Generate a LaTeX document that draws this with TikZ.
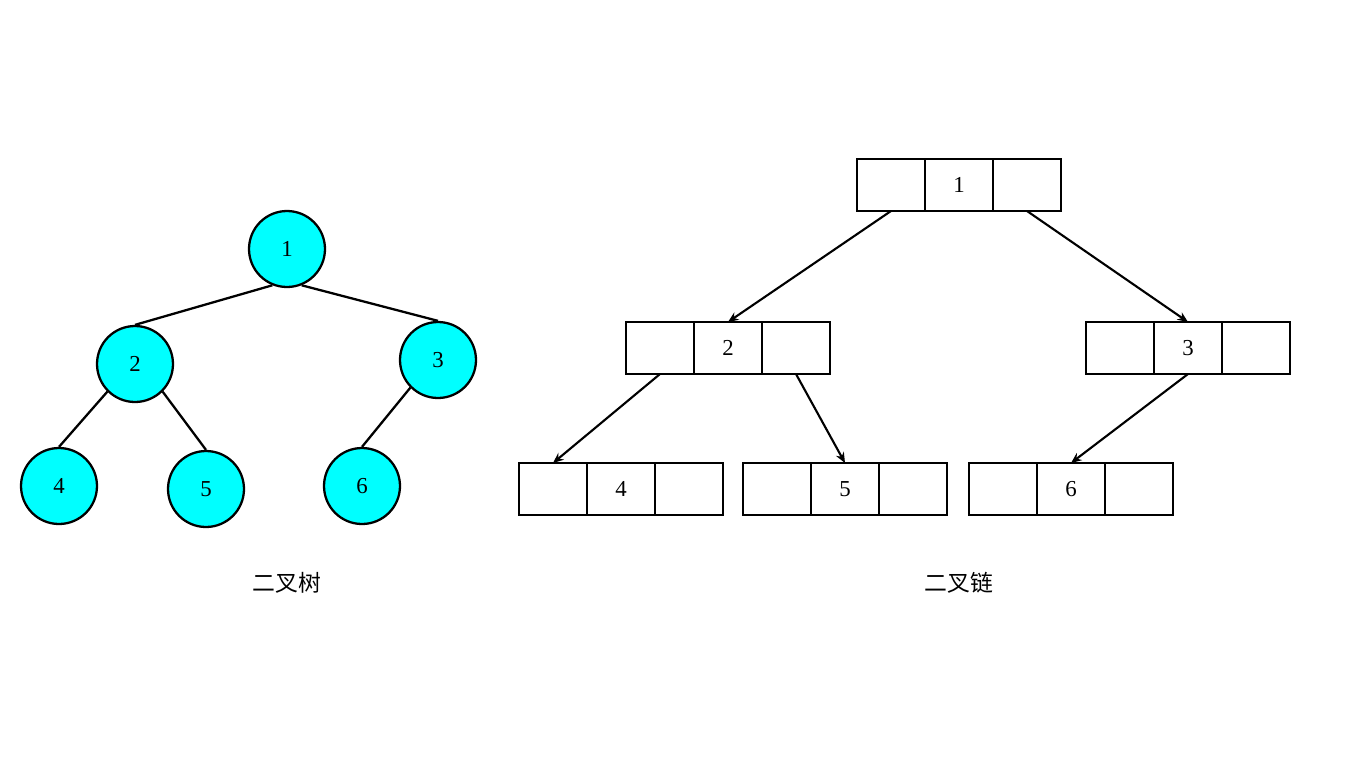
\documentclass[tikz,border=0pt]{standalone}
\usepackage{fontspec}
\setmainfont{Liberation Serif}
\newfontfamily\cjk{Noto Sans CJK SC}
\usetikzlibrary{positioning,arrows.meta}
\definecolor{nodecyan}{RGB}{0,255,255}
\tikzset{
    treenode/.style = {circle, draw, fill=nodecyan, line width=1.3pt, minimum size=1.52cm, inner sep=0pt},
    treeedge/.style = {line width=1.3pt},
    cell/.style = {rectangle, draw, line width=1.3pt, minimum width=1.36cm, minimum height=1.04cm, inner sep=0pt, outer sep=0pt},
    link/.style = {line width=1.2pt, -{Stealth[length=6pt,width=5pt]}}
}
\begin{document}
\begin{tikzpicture}[
        x = 0.02cm, y = -0.02cm,
        font = \fontsize{13}{15}\selectfont
    ]
        \useasboundingbox (0,0) rectangle (1366,765);
        % binary tree
        \node [treenode] (t1) at (287,249) {1};
        \node [treenode] (t2) at (135,364) {2};
        \node [treenode] (t3) at (438,360) {3};
        \node [treenode] (t4) at (59,486) {4};
        \node [treenode] (t5) at (206,489) {5};
        \node [treenode] (t6) at (362,486) {6};
        \draw [treeedge] (t1.-112) -- (t2.north);
        \draw [treeedge] (t1.-68) -- (t3.north);
        \draw [treeedge] (t2.-135) -- (t4.north);
        \draw [treeedge] (t2.-45) -- (t5.north);
        \draw [treeedge] (t3.-135) -- (t6.north);
        \node (treelabel) at (287,583) {\cjk 二叉树};
        % binary linked list
        \foreach \name/\val/\x/\y in {b1/1/959/185, b2/2/728/348, b3/3/1188/348,
                                      b4/4/621/489, b5/5/845/489, b6/6/1071/489}{
            \node [cell] (\name) at (\x,\y) {\val};
            \node [cell, left=0pt of \name] (\name l) {};
            \node [cell, right=0pt of \name] (\name r) {};
        }
        \draw [link] (b1l.south) -- (b2.north);
        \draw [link] (b1r.south) -- (b3.north);
        \draw [link] (b2l.south) -- (b4l.north);
        \draw [link] (b2r.south) -- (b5.north);
        \draw [link] (b3.south) -- (b6.north);
        \node (listlabel) at (959,583) {\cjk 二叉链};
\end{tikzpicture}
\end{document}
